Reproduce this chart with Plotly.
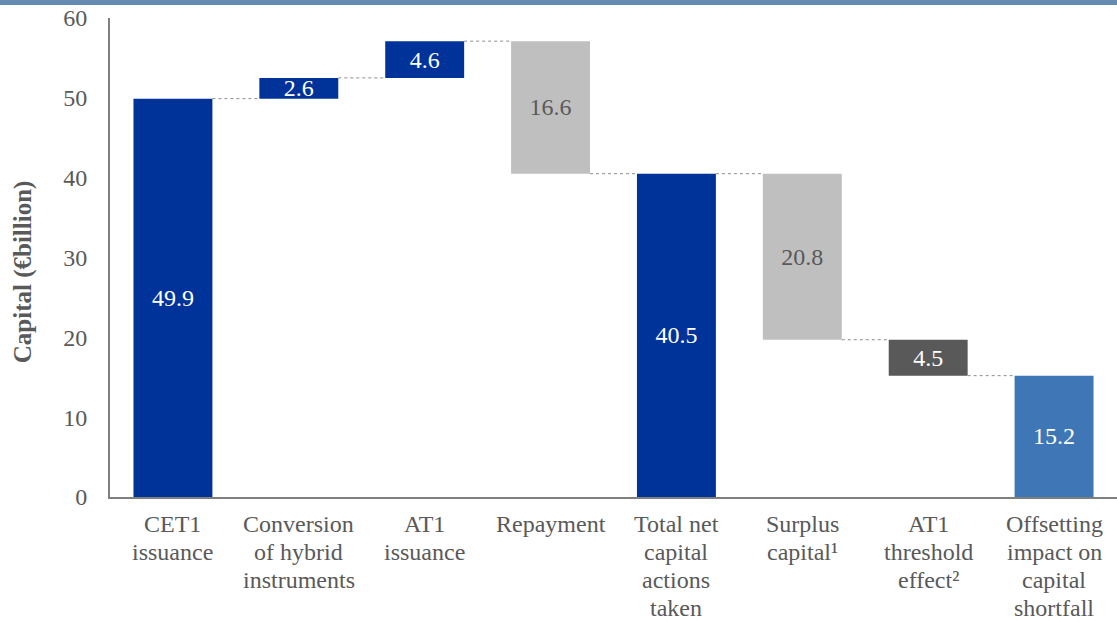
import plotly.graph_objects as go

categories = ["CET1<br>issuance", "Conversion<br>of hybrid<br>instruments", "AT1<br>issuance",
              "Repayment", "Total net<br>capital<br>actions<br>taken", "Surplus<br>capital¹",
              "AT1<br>threshold<br>effect²", "Offsetting<br>impact on<br>capital<br>shortfall"]
values = [49.9, 2.6, 4.6, -16.6, 40.5, -20.8, -4.5, 15.2]
kinds = ["total", "relative", "relative", "relative", "total", "relative", "relative", "total"]
bar_colors = ["#003399", "#003399", "#003399", "#BFBFBF", "#003399", "#BFBFBF", "#595959", "#3F76B6"]
label_colors = ["white", "white", "white", "#595959", "white", "#595959", "white", "white"]

FONT = "Liberation Serif, Times New Roman, serif"
GREY = "#595959"
PLOT_H = 479  # plot-area height in px (622 - 18 - 125)

# compute bases / heights
bases, heights, ends = [], [], []
level = 0.0
for v, k in zip(values, kinds):
    if k == "total":
        bases.append(0.0)
        heights.append(v)
        level = v
    else:
        start = level
        level = level + v
        bases.append(min(start, level))
        heights.append(abs(v))
    ends.append(level)

BW = 0.627
fig = go.Figure()
fig.add_trace(go.Bar(
    x=list(range(len(categories))), y=heights, base=bases, width=BW,
    marker=dict(color=bar_colors, line=dict(width=0)),
    text=[f"{abs(v):.1f}" for v in values],
    textposition="inside", insidetextanchor="middle", constraintext="none",
    textfont=dict(family=FONT, size=24, color=label_colors),
    hoverinfo="skip",
))

shapes = []
for i in range(len(values) - 1):
    shapes.append(dict(type="line", xref="x", yref="y",
                       x0=i + BW / 2, x1=i + 1 - BW / 2, y0=ends[i], y1=ends[i],
                       line=dict(color="#8C8C8C", width=1, dash="dot")))
# top band
shapes.append(dict(type="rect", xref="paper", yref="paper",
                   x0=-0.2, x1=1.01, y0=1 + 13 / PLOT_H, y1=1 + 19 / PLOT_H,
                   fillcolor="#668BB1", line=dict(width=0), layer="above"))

# category labels, one annotation per line for tighter line spacing
annotations = []
for i, lab in enumerate(categories):
    for k, line in enumerate(lab.split("<br>")):
        annotations.append(dict(text=line, xref="x", yref="paper", x=i,
                                y=-(27 + 28 * k) / PLOT_H, showarrow=False,
                                xanchor="center", yanchor="middle",
                                font=dict(family=FONT, size=24, color=GREY)))
annotations.append(dict(text="<b>Capital (€billion)</b>", xref="paper", yref="paper",
                        x=-0.087, y=0.47, textangle=-90, showarrow=False,
                        xanchor="center", yanchor="middle",
                        font=dict(family=FONT, size=25, color=GREY)))

fig.update_layout(
    width=1117, height=622,
    margin=dict(l=110, r=0, t=18, b=125),
    plot_bgcolor="white", paper_bgcolor="white",
    showlegend=False,
    font=dict(family=FONT, size=24, color=GREY),
    shapes=shapes,
    annotations=annotations,
    xaxis=dict(tickmode="array", tickvals=list(range(len(categories))), showticklabels=False,
               range=[-0.5, len(categories) - 0.5], showline=True, linecolor="#7F7F7F",
               linewidth=2, ticks="", showgrid=False, zeroline=False),
    yaxis=dict(range=[0, 60], dtick=10, showline=True, linecolor="#7F7F7F", linewidth=2,
               ticks="", showgrid=False, zeroline=False, ticklabelstandoff=16,
               tickfont=dict(family=FONT, size=24, color=GREY)),
)

fig.write_html("out.html", config={"displayModeBar": False},
               post_script="document.body.style.margin='0px';")
